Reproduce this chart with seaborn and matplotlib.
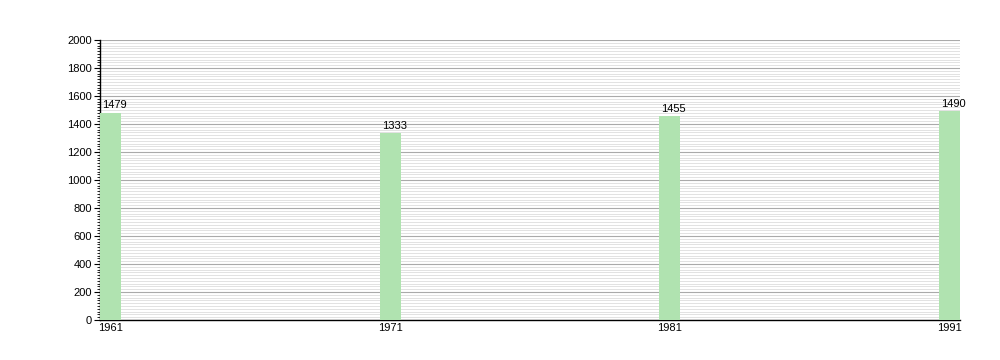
import matplotlib
matplotlib.use("Agg")
import matplotlib.pyplot as plt
import seaborn as sns
import pandas as pd
import numpy as np
from matplotlib.ticker import MultipleLocator

years = [1961, 1971, 1981, 1991]
population = [1479, 1333, 1455, 1490]
all_years = list(range(1961, 1992))

sns.set_theme(style="white")
plt.rcParams['font.family'] = ['Liberation Sans', 'DejaVu Sans']
plt.rcParams['text.color'] = 'black'
plt.rcParams['xtick.color'] = 'black'
plt.rcParams['ytick.color'] = 'black'

df = pd.DataFrame({"year": years, "pop": population})

fig = plt.figure(figsize=(10, 3.6), dpi=100)
ax = fig.add_axes([0.1, 1 - 320 / 360, 0.86, 280 / 360])

sns.barplot(data=df, x="year", y="pop", order=all_years, color="#b0e3b0",
            saturation=1, width=0.75, linewidth=0, ax=ax, zorder=3)

ax.set_ylim(0, 2000)
ax.set_xlim(-0.375, len(all_years) - 1 + 0.375)
ax.yaxis.set_major_locator(MultipleLocator(200))
ax.yaxis.set_minor_locator(MultipleLocator(20))
ax.grid(axis="y", which="major", color="#aaaaaa", linewidth=0.8, zorder=0)
ax.grid(axis="y", which="minor", color="#dddddd", linewidth=0.6, zorder=0)
ax.set_axisbelow(True)

tick_pos = [all_years.index(y) for y in years]
ax.set_xticks(tick_pos)
ax.set_xticklabels([str(y) for y in years], fontsize=8, color="black")
ax.tick_params(axis="y", which="major", labelsize=8, length=4, width=0.8, direction="out", left=True, color="black", labelcolor="black", pad=2)
ax.tick_params(axis="y", which="minor", length=2, width=0.6, left=True, color="black")
ax.tick_params(axis="x", length=0, pad=2, labelsize=8, labelcolor="black")

for s in ["top", "right"]:
    ax.spines[s].set_visible(False)
for s in ["left", "bottom"]:
    ax.spines[s].set_color("black")
    ax.spines[s].set_linewidth(1.0)

ax.set_xlabel("")
ax.set_ylabel("")

for p in ax.patches:
    h = p.get_height()
    if np.isfinite(h) and h > 0:
        ax.annotate(f"{int(round(h))}", xy=(p.get_x(), h), xytext=(1.5, 2),
                    textcoords="offset points", ha="left", va="bottom",
                    fontsize=8, color="black")

fig.savefig("out.png", dpi=100)
